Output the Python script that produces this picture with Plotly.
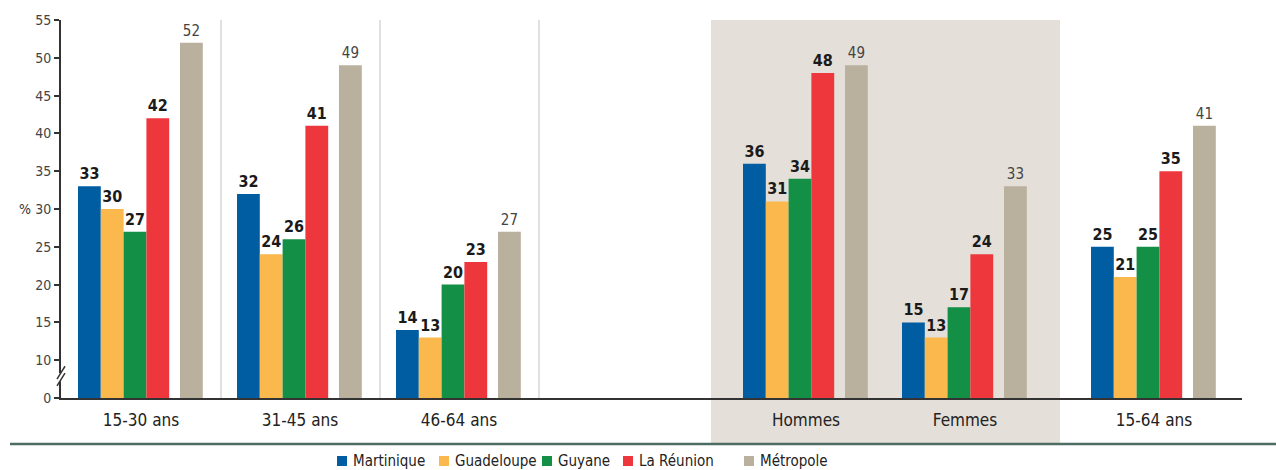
import plotly.graph_objects as go

# ---- data ----
groups = ["15-30 ans", "31-45 ans", "46-64 ans", "Hommes", "Femmes", "15-64 ans"]
martinique = [33, 32, 14, 36, 15, 25]
guadeloupe = [30, 24, 13, 31, 13, 21]
guyane = [27, 26, 20, 34, 17, 25]
reunion = [42, 41, 23, 48, 24, 35]
metropole = [52, 49, 27, 49, 33, 41]
series_names = ["Martinique", "Guadeloupe", "Guyane", "La Réunion", "Métropole"]
y_tickvals = [5, 10, 15, 20, 25, 30, 35, 40, 45, 50, 55]
y_ticktext = ["0", "10", "15", "20", "25", "30", "35", "40", "45", "50", "55"]

# ---- layout constants (pixel-like x units) ----
W, H = 1276, 470
ML, MR, MT, MB = 61, 34, 20, 72
group_centers = [141, 300, 459, 806, 965, 1154]
BW = 22.8
offsets = [-63, -63 + BW, -63 + 2 * BW, -63 + 3 * BW, 39]
colors = ["#005da2", "#fbb84c", "#138f46", "#ee363d", "#b9b09e"]
legend_px = [337, 439, 542, 623, 744]   # left edge of each legend swatch (px)
FONT = "Liberation Sans Narrow, DejaVu Sans Condensed, Roboto Condensed, Roboto, sans-serif"
PW = W - ML - MR
PH = H - MT - MB


def px_x(p):
    return (p - ML) / PW


def px_y(p):
    return (H - MB - p) / PH


fig = go.Figure()
all_series = [martinique, guadeloupe, guyane, reunion, metropole]
for i, (name, vals) in enumerate(zip(series_names, all_series)):
    is_met = i == 4
    fig.add_trace(go.Bar(
        x=group_centers, y=vals, name=name,
        offset=offsets[i], width=BW,
        marker=dict(color=colors[i], line=dict(width=0)),
        text=[str(v) for v in vals],
        texttemplate="%{text}" if is_met else "<b>%{text}</b>",
        textposition="outside",
        textfont=dict(family=FONT, size=15 if is_met else 16,
                      color="#444" if is_met else "#1a1a1a"),
        cliponaxis=False,
        hoverinfo="skip",
        showlegend=False,
    ))

shapes = []
annotations = []
# shaded sex box
g_half = 63
pad = 32
shapes.append(dict(type="rect", xref="x", yref="paper",
                   x0=group_centers[3] - g_half - pad, x1=group_centers[4] + g_half + pad,
                   y0=px_y(443), y1=1, fillcolor="#e4dfd8", line=dict(width=0), layer="below"))
# separators
gap_half = 17
for gi in range(3):
    xs = group_centers[gi] + g_half + gap_half
    shapes.append(dict(type="line", xref="x", yref="paper", x0=xs, x1=xs, y0=0, y1=1,
                       line=dict(color="#d6d6d6", width=1.5), layer="below"))
# bottom rule
shapes.append(dict(type="line", xref="paper", yref="paper",
                   x0=px_x(10), x1=px_x(W),
                   y0=px_y(444), y1=px_y(444), line=dict(color="#4c6c64", width=2.5)))
# axis break
shapes.append(dict(type="rect", xref="paper", yref="y", xsizemode="pixel", xanchor=0,
                   x0=-3, x1=3, y0=7.2, y1=8.3, fillcolor="white", line=dict(width=0),
                   layer="above"))
for (ya, yb) in [(6.6, 8.3), (7.5, 9.2)]:
    shapes.append(dict(type="line", xref="paper", yref="y", xsizemode="pixel", xanchor=0,
                       x0=-4, x1=4, y0=ya, y1=yb, line=dict(color="#333", width=1.5),
                       layer="above"))

# legend (drawn manually for exact spacing)
for name, col, lx in zip(series_names, colors, legend_px):
    shapes.append(dict(type="rect", xref="paper", yref="paper",
                       x0=px_x(lx), x1=px_x(lx + 10), y0=px_y(466), y1=px_y(456),
                       fillcolor=col, line=dict(width=0)))
    annotations.append(dict(text=name, xref="paper", yref="paper",
                            x=px_x(lx + 14), y=px_y(461), xanchor="left", yanchor="middle",
                            showarrow=False,
                            font=dict(family=FONT, size=15, color="#222")))

annotations.append(dict(text="%", xref="paper", yref="y", x=px_x(17), y=30,
                        showarrow=False, font=dict(family=FONT, size=14, color="#333")))

fig.update_layout(
    width=W, height=H,
    margin=dict(l=ML, r=MR, t=MT, b=MB, pad=0, autoexpand=False),
    paper_bgcolor="white", plot_bgcolor="rgba(0,0,0,0)",
    barmode="overlay",
    font=dict(family=FONT, color="#333"),
    shapes=shapes,
    annotations=annotations,
    showlegend=False,
    xaxis=dict(range=[ML, W - MR], tickvals=group_centers, ticktext=groups,
               showgrid=False, zeroline=False, showline=True, linecolor="#333", linewidth=2,
               ticks="", tickfont=dict(family=FONT, size=17, color="#222"),
               ticklabelstandoff=6, fixedrange=True, automargin=False),
    yaxis=dict(range=[5, 55], tickvals=y_tickvals, ticktext=y_ticktext,
               showgrid=False, zeroline=False, showline=True, linecolor="#333", linewidth=2,
               ticks="outside", ticklen=5, tickcolor="#333", tickwidth=1.5,
               tickfont=dict(family=FONT, size=14, color="#444"), fixedrange=True,
               automargin=False),
)

fig.write_html("out.html", config={"displayModeBar": False},
               post_script="document.body.style.margin='0';document.body.style.padding='0';")
